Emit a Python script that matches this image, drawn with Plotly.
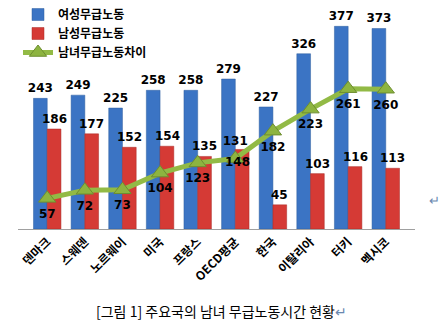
import plotly.graph_objects as go

categories = ["덴마크", "스웨덴", "노르웨이", "미국", "프랑스", "OECD평균", "한국", "이탈리아", "터키", "멕시코"]
female = [243, 249, 225, 258, 258, 279, 227, 326, 377, 373]
male = [186, 177, 152, 154, 135, 148, 45, 103, 116, 113]
diff = [57, 72, 73, 104, 123, 131, 182, 223, 261, 260]
male_label_side = ["above"] * 5 + ["below"] + ["above"] * 4
diff_textpos = ["bottom center"] * 5 + ["top center"] + ["bottom center"] * 4

num_font = dict(family="DejaVu Sans", size=12, color="black")
kr_font = "Noto Sans CJK KR"

fig = go.Figure()
fig.add_trace(go.Bar(
    x=categories, y=female, name="<b>여성무급노동</b>",
    marker=dict(color="#3B74C4", line=dict(color="#2F5F9F", width=0.5)),
    text=[f"<b>{v}</b>" for v in female], textposition="outside",
    constraintext="none", textangle=0,
    textfont=num_font, cliponaxis=False,
))
fig.add_trace(go.Bar(
    x=categories, y=male, name="<b>남성무급노동</b>",
    marker=dict(color="#D53A35", line=dict(color="#A82A26", width=0.5)),
))
fig.add_trace(go.Scatter(
    x=categories, y=diff, name="<b>남녀무급노동차이</b>",
    mode="lines+markers+text",
    line=dict(color="#92BA45", width=5),
    marker=dict(symbol="triangle-up", size=15, color="#8DB440", line=dict(color="#6E8E30", width=1)),
    text=[f"<b>{v}</b>" for v in diff], textposition=diff_textpos,
    textfont=num_font, cliponaxis=False,
))

# male value labels (drawn above the line layer)
for c, v, side in zip(categories, male, male_label_side):
    above = side == "above"
    fig.add_annotation(
        x=c, y=v, text=f"<b>{v}</b>", showarrow=False,
        xshift=(7 if above else 2), yshift=(10 if above else -13),
        font=num_font,
    )

fig.add_annotation(
    text="[그림 1] 주요국의 남녀 무급노동시간 현황<span style='color:#6A88B0'>↵</span>",
    xref="paper", yref="paper", x=0.5, y=-0.36, xanchor="center", yanchor="middle",
    showarrow=False, font=dict(family=kr_font, size=14, color="black"), xshift=5,
)
fig.add_annotation(
    text="↵", xref="paper", yref="paper", x=1.0, y=0.08, xanchor="left",
    showarrow=False, font=dict(family=kr_font, size=13, color="#6A88B0"), xshift=12,
)

fig.update_layout(
    width=444, height=327,
    margin=dict(l=18, r=29, t=0, b=98, autoexpand=False),
    paper_bgcolor="white", plot_bgcolor="white",
    barmode="group", bargap=0.27, bargroupgap=0,
    showlegend=True,
    legend=dict(
        x=0.0, y=1.0, xanchor="left", yanchor="top",
        font=dict(family=kr_font, size=12, color="black"),
        bgcolor="rgba(255,255,255,0)", tracegroupgap=0, itemwidth=30,
    ),
    xaxis=dict(
        tickangle=-45, showline=True, linecolor="#A0A0A0", linewidth=1,
        ticks="", tickfont=dict(family=kr_font, size=12, color="black", weight="bold"),
        showgrid=False,
    ),
    yaxis=dict(range=[0, 426], visible=False, showgrid=False),
)

fig.write_html("out.html")
